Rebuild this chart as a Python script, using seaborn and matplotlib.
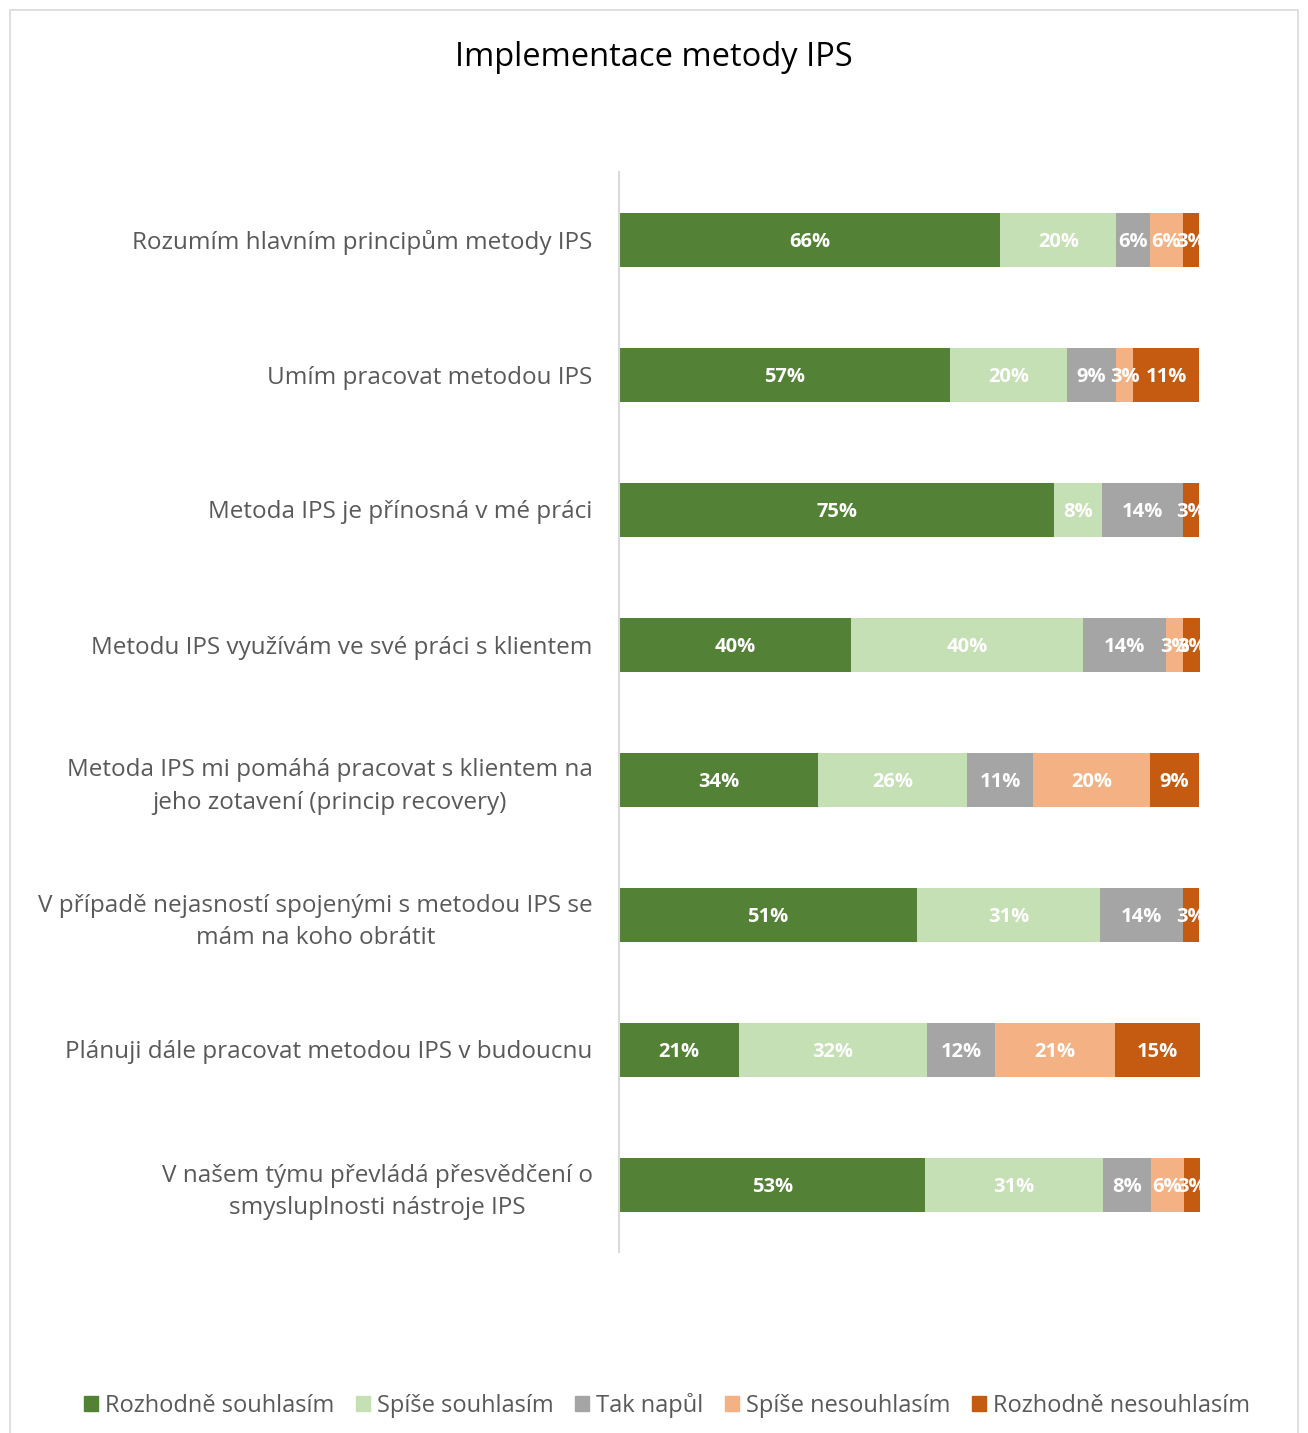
import matplotlib
matplotlib.use("Agg")
import matplotlib.pyplot as plt
import matplotlib.patches as mpatches
import seaborn as sns
import pandas as pd
import numpy as np

categories = [
    "Rozumím hlavním principům metody IPS",
    "Umím pracovat metodou IPS",
    "Metoda IPS je přínosná v mé práci",
    "Metodu IPS využívám ve své práci s klientem",
    "Metoda IPS mi pomáhá pracovat s klientem na\njeho zotavení (princip recovery)",
    "V případě nejasností spojenými s metodou IPS se\nmám na koho obrátit",
    "Plánuji dále pracovat metodou IPS v budoucnu",
    "V našem týmu převládá přesvědčení o\nsmysluplnosti nástroje IPS",
]
series_names = ["Rozhodně souhlasím", "Spíše souhlasím", "Tak napůl",
                "Spíše nesouhlasím", "Rozhodně nesouhlasím"]
rozhodne_souhlasim = [65.7, 57.1, 75.0, 40.0, 34.3, 51.4, 20.6, 52.8]
spise_souhlasim    = [20.0, 20.0, 8.3, 40.0, 25.7, 31.4, 32.4, 30.6]
tak_napul          = [5.7, 8.6, 13.9, 14.3, 11.4, 14.3, 11.8, 8.3]
spise_nesouhlasim  = [5.7, 2.9, 0.0, 2.9, 20.0, 0.0, 20.6, 5.6]
rozhodne_nesouhlasim = [2.9, 11.4, 2.8, 2.9, 8.6, 2.9, 14.7, 2.8]
colors = ["#538135", "#c5e0b4", "#a5a5a5", "#f4b183", "#c55a11"]

values = [rozhodne_souhlasim, spise_souhlasim, tak_napul,
          spise_nesouhlasim, rozhodne_nesouhlasim]

FONT = ["Open Sans", "DejaVu Sans"]
plt.rcParams["font.family"] = FONT

fig = plt.figure(figsize=(13.08, 14.33), dpi=100)
W, H = 1308, 1433
ax = fig.add_axes([619 / W, 1 - 1252 / H, (1200 - 619) / W, (1252 - 172) / H])

cum = np.zeros(len(categories))
cums = []
for v in values:
    cum = cum + np.array(v)
    cums.append(cum.copy())

# draw from the largest cumulative to smallest
for i in range(len(values) - 1, -1, -1):
    d = pd.DataFrame({"cat": categories, "val": cums[i]})
    sns.barplot(data=d, x="val", y="cat", color=colors[i], orient="h",
                width=0.4, ax=ax, saturation=1, linewidth=0)

# labels
for i, v in enumerate(values):
    starts = cums[i] - np.array(v)
    for j, val in enumerate(v):
        if val <= 0:
            continue
        ax.text(starts[j] + val / 2, j, f"{val:.0f}%", ha="center", va="center_baseline",
                color="white", fontsize=14.5, fontweight="bold")

ax.set_xlim(0, cums[-1].max())
ax.set_ylim(len(categories) - 0.5, -0.5)
ax.set_xlabel("")
ax.set_ylabel("")
ax.set_xticks([])
ax.set_yticks(range(len(categories)))
ax.set_yticklabels(categories, fontsize=17.5, color="#595959", multialignment="center",
                   linespacing=1.45)
ax.tick_params(axis="y", length=0, pad=19)
for s in ["top", "right", "bottom"]:
    ax.spines[s].set_visible(False)
ax.spines["left"].set_color("#d9d9d9")
ax.spines["left"].set_linewidth(1.5)
ax.set_facecolor("white")

fig.text(0.5, 1 - 58 / H, "Implementace metody IPS", ha="center", va="center",
         fontsize=23.5, color="black")

handles = [mpatches.Patch(color=c, label=n) for c, n in zip(colors, series_names)]
fig.legend(handles=handles, loc="center", bbox_to_anchor=(0.51, 1 - 1405 / H), ncol=5,
           frameon=False, fontsize=17, handlelength=0.6, handleheight=0.6,
           handletextpad=0.3, columnspacing=0.9, labelcolor="#595959")

fig.patches.append(mpatches.Rectangle((10 / W, -0.01), (1298 - 10) / W, 1 - 10 / H + 0.01,
                                      transform=fig.transFigure, fill=False,
                                      edgecolor="#d9d9d9", linewidth=1.2))

fig.savefig("out.png", dpi=100, facecolor="white")
